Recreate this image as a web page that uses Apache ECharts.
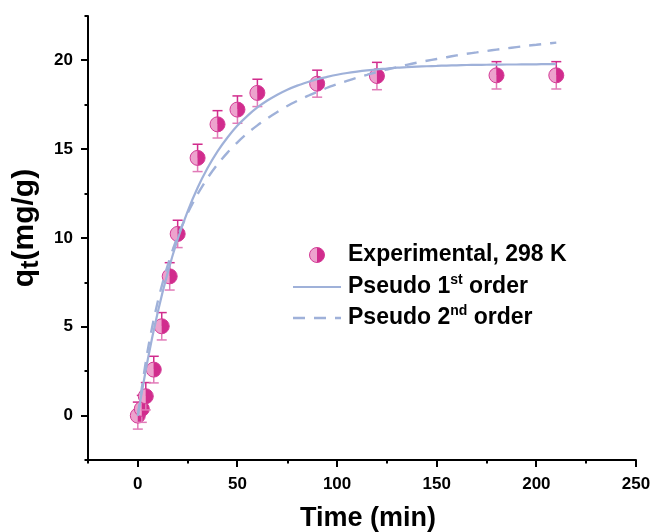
<!DOCTYPE html>
<html><head><meta charset="utf-8">
<script src="https://cdn.jsdelivr.net/npm/echarts@6/dist/echarts.min.js"></script>
<style>html,body{margin:0;padding:0;background:#fff}#c{width:655px;height:532px}</style>
</head><body><div id="c"></div>
<script>
// Experimental data
const expTime = [0, 2, 4, 8, 12, 16, 20, 30, 40, 50, 60, 90, 120, 180, 210];
const expQ    = [0, 0.38, 1.09, 2.59, 5.03, 7.84, 10.23, 14.51, 16.4, 17.23, 18.17, 18.69, 19.12, 19.16, 19.16];
const expErr  = [0.76, 0.76, 0.77, 0.75, 0.77, 0.77, 0.77, 0.77, 0.77, 0.77, 0.77, 0.76, 0.77, 0.77, 0.77];
// Fitted curves (values every 5 min)
const fitTime = [0, 5, 10, 15, 20, 25, 30, 35, 40, 45, 50, 55, 60, 65, 70, 75, 80, 85, 90, 95, 100,
                 105, 110, 115, 120, 125, 130, 135, 140, 145, 150, 155, 160, 165, 170, 175, 180, 185, 190, 195, 200, 205, 210];
const fitQ1   = [0, 3.16, 5.82, 8.05, 9.93, 11.5, 12.83, 13.94, 14.88, 15.66, 16.33, 16.88, 17.35, 17.74, 18.07, 18.35, 18.58, 18.77, 18.94, 19.07, 19.19,
                 19.29, 19.37, 19.44, 19.5, 19.54, 19.59, 19.62, 19.65, 19.67, 19.69, 19.71, 19.72, 19.74, 19.75, 19.755, 19.76, 19.77, 19.77, 19.78, 19.78, 19.79, 19.79];
const fitQ2   = [0, 3.7, 6.41, 8.46, 10.09, 11.39, 12.47, 13.38, 14.15, 14.81, 15.39, 15.9, 16.34, 16.74, 17.1, 17.43, 17.72, 17.99, 18.23, 18.46, 18.66,
                 18.85, 19.03, 19.19, 19.35, 19.49, 19.62, 19.75, 19.87, 19.98, 20.08, 20.18, 20.28, 20.37, 20.45, 20.53, 20.61, 20.68, 20.75, 20.82, 20.88, 20.94, 21.0];
// Axis ticks
const xMajor = [0, 50, 100, 150, 200, 250];
const xMinor = [-25, 25, 75, 125, 175, 225];
const yMajor = [0, 5, 10, 15, 20];
const yMinor = [-2.5, 2.5, 7.5, 12.5, 17.5, 22.5];
const legendNames = ['Experimental, 298 K', 'Pseudo 1{sup|st} order', 'Pseudo 2{sup|nd} order'];

const X_MIN = -25, X_MAX = 250, Y_MIN = -2.5, Y_MAX = 22.5;
const FONT = 'Arial, "Liberation Sans", Helvetica, sans-serif';
const LINE_COLOR = '#9fb1d9';
const DARK = '#d12c8d';
const LIGHT = '#eda2cd';
const STROKE = '#d43c97';
const ERR_LIGHT = '#e17bb8';

const expData = expTime.map((t, i) => [t, expQ[i], expErr[i]]);
const fit1 = fitTime.map((t, i) => [t, fitQ1[i]]);
const fit2 = fitTime.map((t, i) => [t, fitQ2[i]]);

function markerParts(cx, cy, r) {
  return [
    {type: 'sector', shape: {cx: cx, cy: cy, r0: 0, r: r, startAngle: Math.PI / 2, endAngle: Math.PI * 1.5}, style: {fill: LIGHT}},
    {type: 'sector', shape: {cx: cx, cy: cy, r0: 0, r: r, startAngle: -Math.PI / 2, endAngle: Math.PI / 2}, style: {fill: DARK}},
    {type: 'circle', shape: {cx: cx, cy: cy, r: r}, style: {fill: 'none', stroke: STROKE, lineWidth: 1}}
  ];
}

function tickAxis(min, max, interval, pos, values, len) {
  return {
    type: 'value', min: min, max: max, interval: interval, position: pos,
    axisLine: {show: false, onZero: false},
    splitLine: {show: false},
    axisTick: {show: true, inside: false, length: len, customValues: values, lineStyle: {color: '#000', width: 2}},
    axisLabel: {show: false}
  };
}

const legendGraphics = [
  {type: 'group', children: markerParts(317, 255, 7.5)},
  {type: 'line', shape: {x1: 293, y1: 287, x2: 341, y2: 287}, style: {stroke: LINE_COLOR, lineWidth: 2.2}},
  {type: 'line', shape: {x1: 293, y1: 318, x2: 341, y2: 318}, style: {stroke: LINE_COLOR, lineWidth: 2.4, lineDash: [12, 9]}},
  {type: 'text', x: 348, y: 255, style: {text: legendNames[0], fontFamily: FONT, fontWeight: 'bold', fontSize: 23, fill: '#000', verticalAlign: 'middle', align: 'left'}},
  {type: 'text', x: 348, y: 287, style: {text: legendNames[1], fontFamily: FONT, fontWeight: 'bold', fontSize: 23, fill: '#000', verticalAlign: 'middle', align: 'left', lineHeight: 28,
    rich: {sup: {fontFamily: FONT, fontWeight: 'bold', fontSize: 14, fill: '#000', verticalAlign: 'top', lineHeight: 16}}}},
  {type: 'text', x: 348, y: 318, style: {text: legendNames[2], fontFamily: FONT, fontWeight: 'bold', fontSize: 23, fill: '#000', verticalAlign: 'middle', align: 'left', lineHeight: 28,
    rich: {sup: {fontFamily: FONT, fontWeight: 'bold', fontSize: 14, fill: '#000', verticalAlign: 'top', lineHeight: 16}}}}
];

const chart = echarts.init(document.getElementById('c'));
chart.setOption({
  animation: false,
  backgroundColor: '#fff',
  grid: {left: 88, right: 19, top: 16, bottom: 72, containLabel: false, outerBoundsMode: 'none'},
  xAxis: [
    {
      type: 'value', min: X_MIN, max: X_MAX, interval: 25, position: 'bottom',
      axisLine: {show: true, onZero: false, lineStyle: {color: '#000', width: 2}},
      splitLine: {show: false},
      name: 'Time (min)', nameLocation: 'middle', nameGap: 45,
      nameTextStyle: {fontFamily: FONT, fontWeight: 'bold', fontSize: 27, color: '#000', padding: [0, 0, 0, 12]},
      axisTick: {show: false},
      axisLabel: {show: true, customValues: xMajor, margin: 16, fontFamily: FONT, fontWeight: 'bold', fontSize: 17, color: '#000'}
    },
    tickAxis(X_MIN, X_MAX, 25, 'bottom', xMinor, 3.5)
  ],
  yAxis: [
    {
      type: 'value', min: Y_MIN, max: Y_MAX, interval: 2.5, position: 'left',
      axisLine: {show: true, onZero: false, lineStyle: {color: '#000', width: 2}},
      splitLine: {show: false},
      name: 'q{sub|t}(mg/g)', nameLocation: 'middle', nameGap: 44, nameRotate: 90,
      nameTextStyle: {fontFamily: FONT, fontWeight: 'bold', fontSize: 30, color: '#000', lineHeight: 36,
        padding: [0, 0, 0, 20],
        rich: {sub: {fontFamily: FONT, fontWeight: 'bold', fontSize: 25, color: '#000', verticalAlign: 'bottom', lineHeight: 24}}},
      axisTick: {show: false},
      axisLabel: {show: true, customValues: yMajor, margin: 15, fontFamily: FONT, fontWeight: 'bold', fontSize: 17, color: '#000'}
    },
    tickAxis(Y_MIN, Y_MAX, 2.5, 'left', yMinor, 3.5)
  ],
  series: [
    {
      name: 'Experimental', type: 'custom', xAxisIndex: 0, yAxisIndex: 0, z: 2,
      data: expData,
      renderItem: function (params, api) {
        const t = api.value(0), q = api.value(1), e = api.value(2);
        const c = api.coord([t, q]);
        const top = api.coord([t, q + e]);
        const bot = api.coord([t, q - e]);
        const cap = 5;
        const children = [
          {type: 'line', shape: {x1: c[0], y1: c[1], x2: top[0], y2: top[1]}, style: {stroke: DARK, lineWidth: 1.5}},
          {type: 'line', shape: {x1: top[0] - cap, y1: top[1], x2: top[0] + cap, y2: top[1]}, style: {stroke: DARK, lineWidth: 1.5}},
          {type: 'line', shape: {x1: c[0], y1: c[1], x2: bot[0], y2: bot[1]}, style: {stroke: ERR_LIGHT, lineWidth: 1.5}},
          {type: 'line', shape: {x1: bot[0] - cap, y1: bot[1], x2: bot[0] + cap, y2: bot[1]}, style: {stroke: ERR_LIGHT, lineWidth: 1.5}}
        ].concat(markerParts(c[0], c[1], 7.5));
        return {type: 'group', children: children};
      }
    },
    {
      name: 'Pseudo 1st order', type: 'line', data: fit1, smooth: 0.3,
      symbol: 'none', z: 3, lineStyle: {color: LINE_COLOR, width: 2.2}
    },
    {
      name: 'Pseudo 2nd order', type: 'line', data: fit2, smooth: 0.3,
      symbol: 'none', z: 3, lineStyle: {color: LINE_COLOR, width: 2.4, type: [12, 9]}
    }
  ],
  graphic: legendGraphics
});

// Major ticks: positions taken from the chart's own axis scales
const tickGraphics = [];
xMajor.forEach(function (v) {
  const p = chart.convertToPixel({gridIndex: 0}, [v, Y_MIN]);
  const x = Math.round(p[0]);
  tickGraphics.push({type: 'line', z: 100, shape: {x1: x, y1: p[1], x2: x, y2: p[1] + 7}, style: {stroke: '#000', lineWidth: 2}});
});
yMajor.forEach(function (v) {
  const p = chart.convertToPixel({gridIndex: 0}, [X_MIN, v]);
  const y = Math.round(p[1]);
  tickGraphics.push({type: 'line', z: 100, shape: {x1: p[0] - 7, y1: y, x2: p[0], y2: y}, style: {stroke: '#000', lineWidth: 2}});
});
chart.setOption({graphic: legendGraphics.concat(tickGraphics)});
</script></body></html>
